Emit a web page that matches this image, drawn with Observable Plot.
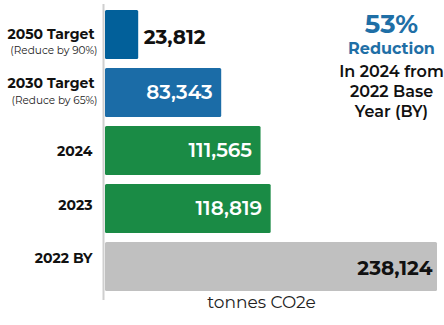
<!DOCTYPE html>
<html><head><meta charset="utf-8">
<script src="https://cdn.jsdelivr.net/npm/d3@7"></script>
<script src="https://cdn.jsdelivr.net/npm/@observablehq/plot@0.6"></script>
<style>
html,body{margin:0;padding:0;background:#fff;}
#chart{width:444px;height:325px;}
</style></head><body><div id="chart"></div>
<script>
const categories = ["2050 Target", "2030 Target", "2024", "2023", "2022 BY"];
const subLabels = ["(Reduce by 90%)", "(Reduce by 65%)", "", "", ""];
const emissions = [23812, 83343, 111565, 118819, 238124];
const barColors = ["#02609a", "#1b6ca7", "#1a8b45", "#1a8b45", "#c0c0c0"];
const calloutLines = ["53%", "Reduction", "In 2024 from", "2022 Base", "Year (BY)"];
const axisLabel = "tonnes CO2e";

const data = categories.map((c, i) => ({category: c, sub: subLabels[i], value: emissions[i]}));
const FONT = "Montserrat, 'Open Sans', sans-serif";
const fmt = d3.format(",");

// label style offsets (px)
const mainDy = {"2050 Target": 0, "2030 Target": -9, "2024": 1, "2023": -3, "2022 BY": -8};
const mainDx = {"2050 Target": -11, "2030 Target": -11, "2024": -13, "2023": -13, "2022 BY": -13};
const subDy = {"2050 Target": 16, "2030 Target": 8};
const calloutStyle = [
  {dy: 20, size: 26, weight: 700, fill: "#1f6fa6"},
  {dy: 44, size: 16, weight: 700, fill: "#1f6fa6"},
  {dy: 67, size: 16, weight: 600, fill: "#111"},
  {dy: 87, size: 16, weight: 600, fill: "#111"},
  {dy: 107, size: 16, weight: 600, fill: "#111"}
];

const marks = [
  Plot.barX(data, {y: "category", x: "value", fill: "category", rx: 1.5}),
  Plot.ruleX([0], {stroke: "#cfcfcf", strokeWidth: 2, dx: -2, insetBottom: -3})
];

// category labels
data.forEach(d => {
  marks.push(Plot.text([d], {
    x: () => 0, y: "category", text: "category", dx: mainDx[d.category], dy: mainDy[d.category],
    textAnchor: "end", lineAnchor: "middle", fontSize: 14, fontWeight: 700, fill: "#111"
  }));
  if (d.sub) marks.push(Plot.text([d], {
    x: () => 0, y: "category", text: "sub", dx: -8, dy: subDy[d.category],
    textAnchor: "end", lineAnchor: "middle", fontSize: 10.5, fontWeight: 400, fill: "#222"
  }));
});

// value labels
marks.push(Plot.text(data.filter(d => d.category === "2050 Target"), {
  x: "value", y: "category", text: d => fmt(d.value), dx: 5, dy: 3,
  textAnchor: "start", lineAnchor: "middle", fontSize: 20, fontWeight: 700, fill: "#111"
}));
marks.push(Plot.text(data.filter(d => d.category !== "2050 Target" && d.category !== "2022 BY"), {
  x: "value", y: "category", text: d => fmt(d.value), dx: -9, dy: 0,
  textAnchor: "end", lineAnchor: "middle", fontSize: 20, fontWeight: 600, fill: "#fff"
}));
marks.push(Plot.text(data.filter(d => d.category === "2022 BY"), {
  x: "value", y: "category", text: d => fmt(d.value), dx: -5, dy: 2,
  textAnchor: "end", lineAnchor: "middle", fontSize: 20, fontWeight: 700, fill: "#111"
}));

// callout
calloutLines.forEach((line, i) => {
  const s = calloutStyle[i];
  marks.push(Plot.text([line], {
    frameAnchor: "top-right", text: d => d, dx: -46, dy: s.dy,
    textAnchor: "middle", lineAnchor: "middle", fontSize: s.size, fontWeight: s.weight, fill: s.fill
  }));
});

// axis label
marks.push(Plot.text([axisLabel], {
  frameAnchor: "bottom", text: d => d, dx: -10, dy: 5,
  textAnchor: "middle", lineAnchor: "middle", fontSize: 17, fontWeight: 400, fill: "#222"
}));

const chart = Plot.plot({
  width: 444,
  height: 325,
  marginLeft: 105,
  marginRight: 7,
  marginTop: 4,
  marginBottom: 28,
  style: {fontFamily: FONT, background: "#fff", overflow: "visible"},
  x: {domain: [0, 238124], axis: null},
  y: {domain: categories, axis: null, paddingInner: 0.157, paddingOuter: 0.072},
  color: {domain: categories, range: barColors},
  marks
});
document.getElementById("chart").append(chart);
</script>
</body></html>
